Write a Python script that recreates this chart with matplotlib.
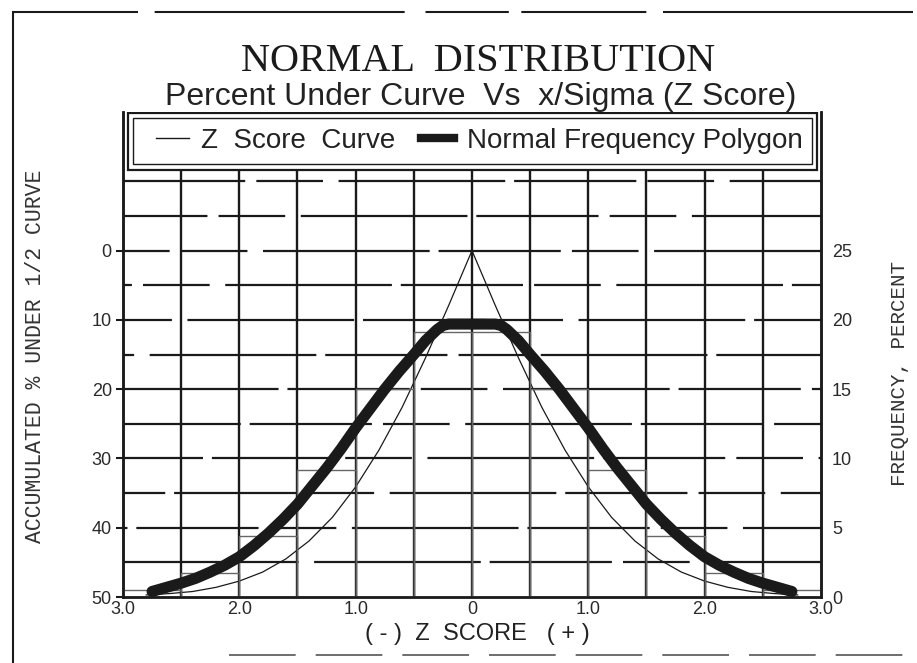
import numpy as np
import matplotlib
matplotlib.use("Agg")
import matplotlib.pyplot as plt
from matplotlib.lines import Line2D
from matplotlib.patches import Rectangle

# z score positions and readings
z_curve = [-2.8, -2.6, -2.4, -2.2, -2.0, -1.8, -1.6, -1.4, -1.2, -1.0, -0.8, -0.6, -0.4, -0.2, 0.0,
           0.2, 0.4, 0.6, 0.8, 1.0, 1.2, 1.4, 1.6, 1.8, 2.0, 2.2, 2.4, 2.6, 2.8]
# accumulated % under 1/2 curve (left axis)
acc_pct = [49.7, 49.5, 49.2, 48.6, 47.7, 46.4, 44.5, 41.9, 38.5, 34.1, 28.8, 22.6, 15.5, 7.9, 0.0,
           7.9, 15.5, 22.6, 28.8, 34.1, 38.5, 41.9, 44.5, 46.4, 47.7, 48.6, 49.2, 49.5, 49.7]

z_poly = [-2.75, -2.625, -2.5, -2.375, -2.25, -2.125, -2.0, -1.875, -1.75, -1.625, -1.5,
          -1.375, -1.25, -1.125, -1.0, -0.875, -0.75, -0.625, -0.5, -0.4, -0.3, -0.25, -0.2, 0.0,
          0.2, 0.25, 0.3, 0.4, 0.5, 0.625, 0.75, 0.875, 1.0, 1.125, 1.25, 1.375, 1.5,
          1.625, 1.75, 1.875, 2.0, 2.125, 2.25, 2.375, 2.5, 2.625, 2.75]
# frequency percent (right axis)
freq_pct = [0.4, 0.7, 1.0, 1.35, 1.8, 2.3, 2.9, 3.7, 4.6, 5.6, 6.7,
            8.0, 9.3, 10.7, 12.2, 13.6, 15.0, 16.3, 17.5, 18.5, 19.3, 19.6, 19.7, 19.7,
            19.7, 19.6, 19.3, 18.5, 17.5, 16.3, 15.0, 13.6, 12.2, 10.7, 9.3, 8.0, 6.7,
            5.6, 4.6, 3.7, 2.9, 2.3, 1.8, 1.35, 1.0, 0.7, 0.4]

bin_left = [-3.0, -2.5, -2.0, -1.5, -1.0, -0.5, 0.0, 0.5, 1.0, 1.5, 2.0, 2.5]
bin_pct = [0.5, 1.7, 4.4, 9.2, 15.0, 19.1, 19.1, 15.0, 9.2, 4.4, 1.7, 0.5]

x_ticks = [-3, -2, -1, 0, 1, 2, 3]
x_labels = ["3.0", "2.0", "1.0", "0", "1.0", "2.0", "3.0"]
left_ticks = [0, 10, 20, 30, 40, 50]
right_ticks = [0, 5, 10, 15, 20, 25]

ink = "#1a1a1a"
sans = ["Liberation Sans", "DejaVu Sans"]

fig = plt.figure(figsize=(9.17, 6.63), dpi=100)
ax = fig.add_axes([0.1341, 0.0995, 0.7612, 0.7315])
ax.set_xlim(-3, 3)
ax.set_ylim(50, -20)
ax2 = ax.twinx()
ax2.set_ylim(0, 35)

# grid (scanned lines are broken)
for i, v in enumerate(np.arange(-10, 50, 5)):
    ax.axhline(v, color=ink, lw=1.6, ls=(i * 17, (55, 5, 30, 7, 75, 4)), zorder=1)
for v in np.arange(-2.5, 2.6, 0.5):
    ax.axvline(v, color=ink, lw=1.7, zorder=1)

# histogram outline
ax2.bar(bin_left, bin_pct, width=0.5, align="edge", fill=False,
        edgecolor="#666666", lw=1.0, zorder=2)

ax.plot(z_curve, acc_pct, color=ink, lw=0.9, zorder=3)
ax2.plot(z_poly, freq_pct, color=ink, lw=8, solid_capstyle="round",
         solid_joinstyle="round", zorder=4)

for a in (ax, ax2):
    for s in a.spines.values():
        s.set_color(ink)
        s.set_linewidth(1.8)
    a.spines["top"].set_visible(False)
ax.spines["bottom"].set_color("#444444")

ax.set_xticks(x_ticks)
ax.set_xticklabels(x_labels, fontsize=13, color="#2a2a2a", family=sans)
ax.set_yticks(left_ticks)
ax.set_yticklabels([str(t) for t in left_ticks], fontsize=13, color="#2a2a2a", family=sans)
ax2.set_yticks(right_ticks)
ax2.set_yticklabels([str(t) for t in right_ticks], fontsize=13, color="#2a2a2a", family=sans)
ax.tick_params(axis="x", length=0, pad=3)
ax.tick_params(axis="y", length=5, width=1.5, pad=3, color=ink)
ax2.tick_params(axis="y", length=0, pad=8)

# legend box at top of plot
ax.add_patch(Rectangle((0.007, 0.88), 0.987, 0.118, transform=ax.transAxes,
                       facecolor="white", edgecolor=ink, lw=1.6, zorder=6))
ax.add_patch(Rectangle((0.014, 0.892), 0.973, 0.095, transform=ax.transAxes,
                       facecolor="none", edgecolor=ink, lw=1.0, zorder=7))
handles = [Line2D([], [], color=ink, lw=1.0),
           Line2D([], [], color=ink, lw=6)]
leg = ax2.legend(handles, ["Z  Score  Curve", "Normal Frequency Polygon"],
                 loc="center", bbox_to_anchor=(0.51, 0.94), ncol=2, frameon=False,
                 handlelength=1.2, columnspacing=0.9, handletextpad=0.45,
                 prop={"family": sans, "size": 20})
leg.set_zorder(8)
for t in leg.get_texts():
    t.set_color("#222222")

fig.text(0.521, 0.893, "NORMAL  DISTRIBUTION", ha="center", va="baseline",
         family="Liberation Serif", fontsize=29, color=ink)
fig.text(0.524, 0.842, "Percent Under Curve  Vs  x/Sigma (Z Score)", ha="center",
         va="baseline", family=sans, fontsize=23, color="#222222")
fig.text(0.521, 0.044, "( - )  Z  SCORE   ( + )", ha="center", va="center",
         family=sans, fontsize=17, color="#222222")
fig.text(0.039, 0.463, "ACCUMULATED % UNDER 1/2 CURVE", rotation=90, ha="center",
         va="center", family="Liberation Mono", fontsize=15.5, color="#333333")
fig.text(0.981, 0.436, "FREQUENCY, PERCENT", rotation=90, ha="center",
         va="center", family="Liberation Mono", fontsize=15, color="#333333")

# scanned page frame
fig.add_artist(Line2D([0.014, 0.014], [0.0, 0.982], transform=fig.transFigure,
                      color=ink, lw=1.5))
fig.add_artist(Line2D([0.014, 1.0], [0.982, 0.982], transform=fig.transFigure,
                      color=ink, lw=1.5, ls=(0, (60, 8, 120, 10, 40, 6))))
fig.add_artist(Line2D([0.25, 1.0], [0.012, 0.012], transform=fig.transFigure,
                      color="#555555", lw=1.2, ls=(0, (40, 12))))

fig.savefig("out.png", dpi=100)
